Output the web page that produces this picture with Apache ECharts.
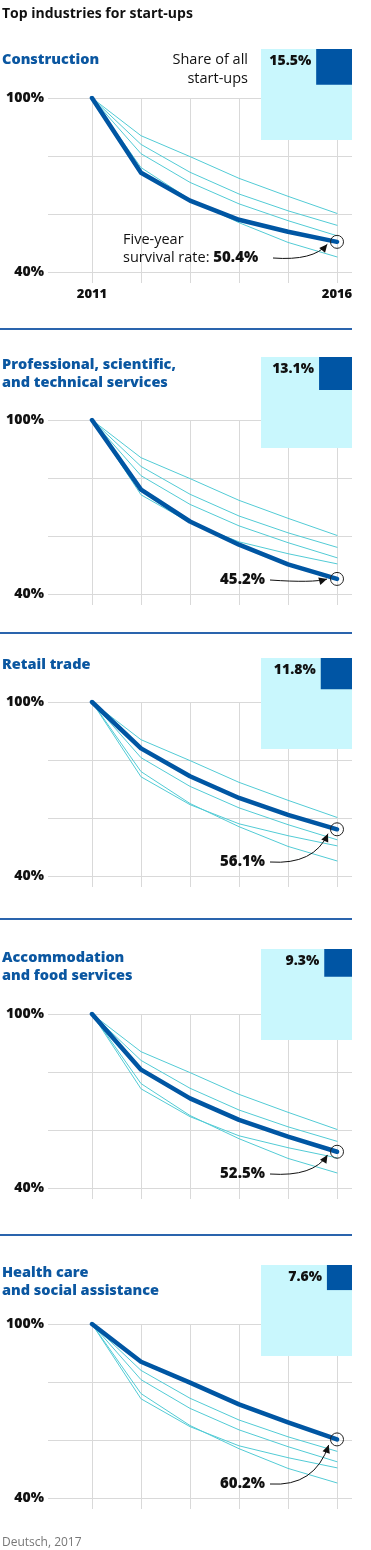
<!DOCTYPE html>
<html><head><meta charset="utf-8">
<script src="https://cdn.jsdelivr.net/npm/echarts@6/dist/echarts.min.js"></script>
<style>html,body{margin:0;padding:0;background:#fff}#c{width:371px;height:1550px}</style>
</head><body><div id="c"></div>
<script>
// ---------- DATA ----------
const chartTitle = 'Top industries for start-ups';
const years = ['2011', '2012', '2013', '2014', '2015', '2016'];
const xTickLabels = ['2011', '2016'];
const yTicks = [40, 60, 80, 100];
const yTickLabels = ['40%', '', '', '100%'];
const industries = [
  'Construction',
  'Professional, scientific,\nand technical services',
  'Retail trade',
  'Accommodation\nand food services',
  'Health care\nand social assistance'
];
const shares = [15.5, 13.1, 11.8, 9.3, 7.6];
const construction  = [100, 74.2, 64.6, 58.0, 53.9, 50.4];
const professional  = [100, 76.0, 65.0, 57.0, 50.2, 45.2];
const retail        = [100, 84.0, 74.4, 66.9, 61.1, 56.1];
const accommodation = [100, 80.8, 70.9, 63.5, 57.7, 52.5];
const health        = [100, 87.0, 79.8, 72.3, 66.1, 60.2];
const shareLabel = ['Share of all', 'start-ups'];
const firstNote = ['Five-year', 'survival rate: '];
const source = 'Deutsch, 2017';

// ---------- LAYOUT ----------
const survival = [construction, professional, retail, accommodation, health];
const FONT = '"Open Sans", sans-serif';
const panelTop = [98, 420, 702, 1014, 1324];
const titleLastY = [60, 383, 665, 976, 1291];
const boxTop = [49, 357, 658, 949, 1265];
const sepY = [329, 633, 919, 1235];
const PLOT_H = 174, EXT = 11;
const BG_LEFT = 48, BG_W = 304, PLOT_LEFT = 92, PLOT_W = 245;
const BOX_RIGHT = 352, BOX = 91;
const GRID = '#d9d9d9', DARK = '#0056a3', THIN = '#52cbd5', BLUE_T = '#0b57a1';

const chart = echarts.init(document.getElementById('c'), null, {renderer: 'canvas'});

const grids = [], xAxes = [], yAxes = [], series = [];
const yMinPlot = 100 - 60 * (PLOT_H + EXT) / PLOT_H;
const thickSeriesIdx = [];

industries.forEach((name, p) => {
  const top = panelTop[p];
  grids.push({left: BG_LEFT, width: BG_W, top: top, height: PLOT_H});
  xAxes.push({type: 'value', gridIndex: 2 * p, show: false, min: 0, max: 1});
  yAxes.push({
    type: 'value', gridIndex: 2 * p, min: 40, max: 100, interval: 20,
    axisLine: {show: false}, axisTick: {show: false},
    splitLine: {show: true, lineStyle: {color: GRID, width: 1}},
    axisLabel: {
      margin: 4, color: '#111', fontFamily: FONT, fontWeight: 800, fontSize: 14,
      formatter: v => yTickLabels[yTicks.indexOf(v)] || ''
    }
  });
  grids.push({left: PLOT_LEFT, width: PLOT_W, top: top, height: PLOT_H + EXT});
  xAxes.push({
    type: 'category', gridIndex: 2 * p + 1, data: years, boundaryGap: false,
    axisLine: {show: false}, axisTick: {show: false},
    splitLine: {show: true, interval: 0, lineStyle: {color: GRID, width: 1}},
    axisLabel: {
      show: p === 0, interval: 0, margin: 5, color: '#111',
      fontFamily: FONT, fontWeight: 800, fontSize: 13,
      formatter: v => xTickLabels.includes(v) ? v : ''
    }
  });
  yAxes.push({type: 'value', gridIndex: 2 * p + 1, min: yMinPlot, max: 100, show: false});

  const order = survival.map((_, k) => k).filter(k => k !== p).concat([p]);
  order.forEach(k => {
    const hi = k === p;
    if (hi) thickSeriesIdx[p] = series.length;
    series.push({
      type: 'line', xAxisIndex: 2 * p + 1, yAxisIndex: 2 * p + 1,
      data: survival[k], z: hi ? 4 : 3, silent: true,
      showSymbol: hi,
      symbol: hi ? ((v, params) => params.dataIndex === years.length - 1 ? 'circle' : 'none') : 'none',
      symbolSize: 13,
      itemStyle: {color: 'rgba(0,0,0,0)', borderColor: '#222', borderWidth: 1},
      lineStyle: {color: hi ? DARK : THIN, width: hi ? 4.5 : 1, join: 'round', cap: 'round'},
      emphasis: {disabled: true}
    });
  });
});

chart.setOption({
  animation: false,
  grid: grids, xAxis: xAxes, yAxis: yAxes, series: series
});

// ---------- ANNOTATIONS ----------
function txt(x, y, text, o) {
  o = o || {};
  return {
    type: 'text', x: x, y: y, z: 20, silent: true,
    style: Object.assign({
      text: text, fill: o.fill || '#111',
      font: (o.weight || 'normal') + ' ' + (o.size || 13) + 'px ' + FONT,
      align: o.align || 'left', verticalAlign: 'middle',
      textAlign: o.align || 'left', textVerticalAlign: 'middle'
    }, o.extra || {})
  };
}

const g = [];
g.push(txt(2, 14, chartTitle, {weight: 'bold', size: 14}));
sepY.forEach(y => g.push({type: 'line', z: 20, silent: true,
  shape: {x1: 0, y1: y, x2: BOX_RIGHT, y2: y}, style: {stroke: '#2a64ad', lineWidth: 2}}));
g.push(txt(2, 1543, source, {size: 12, fill: '#777'}));

industries.forEach((name, p) => {
  const lines = name.split('\n');
  lines.forEach((ln, i) => {
    g.push(txt(2, titleLastY[p] - (lines.length - 1 - i) * 18, ln, {weight: 800, size: 14.5, fill: BLUE_T}));
  });
  const side = BOX * Math.sqrt(shares[p] / 100);
  g.push({type: 'rect', z: 10, silent: true,
    shape: {x: BOX_RIGHT - BOX, y: boxTop[p], width: BOX, height: BOX}, style: {fill: '#c9f7fd'}});
  g.push({type: 'rect', z: 11, silent: true,
    shape: {x: BOX_RIGHT - side, y: boxTop[p], width: side, height: side}, style: {fill: '#0055a4'}});
  g.push(txt(BOX_RIGHT - side - 5, boxTop[p] + 12, shares[p].toFixed(1) + '%', {weight: 800, size: 14, align: 'right'}));

  const vals = survival[p];
  const last = vals[vals.length - 1];
  const pt = chart.convertToPixel({seriesIndex: thickSeriesIdx[p]}, [years.length - 1, last]);
  const ly = panelTop[p] + 160;
  const valText = last.toFixed(1) + '%';
  let startX;
  if (p === 0) {
    g.push(txt(123, ly - 18, firstNote[0], {size: 14.5}));
    g.push({type: 'text', z: 20, silent: true, x: 123, y: ly,
      style: {text: firstNote[1] + '{b|' + valText + '}', fill: '#111',
        font: 'normal 14.5px ' + FONT, align: 'left', verticalAlign: 'middle',
        textAlign: 'left', textVerticalAlign: 'middle',
        rich: {b: {fontFamily: FONT, fontWeight: 800, fontSize: 15, fill: '#111', color: '#111'}}}});
    startX = 273;
  } else {
    g.push(txt(265, ly, valText, {weight: 800, size: 15, align: 'right'}));
    startX = 270;
  }
  const sx = startX, sy = ly;
  const dx = sx - pt[0], dy = sy - pt[1];
  const dl = Math.hypot(dx, dy);
  const tx = pt[0] + 10 * dx / dl, ty = pt[1] + 10 * dy / dl;
  const cx = tx - 14, cy = Math.max(sy, ty) + 3;
  g.push({type: 'bezierCurve', z: 20, silent: true,
    shape: {x1: sx, y1: sy, x2: tx, y2: ty, cpx1: cx, cpy1: cy},
    style: {stroke: '#111', lineWidth: 1, fill: null}});
  let ux = tx - cx, uy = ty - cy; const ul = Math.hypot(ux, uy); ux /= ul; uy /= ul;
  const L = 8, W = 3.8;
  const bx = tx - ux * L, by = ty - uy * L;
  g.push({type: 'polygon', z: 21, silent: true,
    shape: {points: [[tx, ty], [bx - uy * W, by + ux * W], [bx + uy * W, by - ux * W]]},
    style: {fill: '#111'}});
});

g.push(txt(248, 60, shareLabel[0], {size: 14.5, align: 'right'}));
g.push(txt(248, 79, shareLabel[1], {size: 14.5, align: 'right'}));

chart.setOption({graphic: {elements: g}});
</script></body></html>
